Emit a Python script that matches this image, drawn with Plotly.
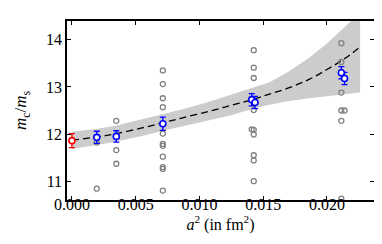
import plotly.graph_objects as go

# ---- data ----
grey_x = [0.00195, 0.00195,
          0.00348, 0.00348, 0.00348,
          0.00713, 0.00713, 0.00713, 0.00713, 0.00713, 0.00713, 0.00713, 0.00713, 0.00713, 0.00713, 0.00713,
          0.01426, 0.01426, 0.01426, 0.01426, 0.01410, 0.01426, 0.01426, 0.01426, 0.01426, 0.01426,
          0.02113, 0.02113, 0.02113, 0.02113, 0.02138, 0.02113, 0.02113]
grey_y = [11.82, 10.84,
          12.28, 11.66, 11.37,
          13.35, 13.06, 12.76, 12.57, 12.01, 11.79, 11.75, 11.52, 11.30, 11.26, 10.80,
          13.78, 13.41, 13.19, 12.51, 12.10, 12.09, 11.99, 11.55, 11.44, 11.00,
          13.93, 13.53, 12.88, 12.50, 12.50, 12.28, 10.63]

blue_x = [0.00195, 0.00348, 0.00713, 0.01410, 0.01436, 0.02113, 0.02138]
blue_y = [11.93, 11.95, 12.22, 12.73, 12.67, 13.30, 13.18]
blue_err = [0.13, 0.12, 0.14, 0.13, 0.13, 0.13, 0.13]

red_x = [0.0]
red_y = [11.86]
red_err = [0.15]

fit_x = [0.0, 0.002, 0.0035, 0.0055, 0.00713, 0.0086, 0.0107, 0.0125, 0.01426,
         0.0155, 0.0170, 0.0186, 0.0200, 0.0211, 0.0218, 0.0226]
fit_y = [11.87, 11.94, 12.01, 12.13, 12.24, 12.34, 12.48, 12.61, 12.74,
         12.85, 12.98, 13.16, 13.37, 13.55, 13.68, 13.85]
band_lo = [11.69, 11.77, 11.84, 11.96, 12.07, 12.17, 12.29, 12.40, 12.54,
           12.62, 12.70, 12.76, 12.80, 12.84, 12.86, 12.88]
band_hi = [12.05, 12.11, 12.18, 12.31, 12.41, 12.52, 12.68, 12.84, 13.00,
           13.10, 13.33, 13.62, 13.92, 14.20, 14.36, 14.58]

x_ticks = [0.0, 0.005, 0.010, 0.015, 0.020]
x_ticklabels = ["0.000", "0.005", "0.010", "0.015", "0.020"]
y_ticks = [11, 12, 13, 14]
y_ticklabels = ["11", "12", "13", "14"]

FONT = "Liberation Serif"

fig = go.Figure()

fig.add_trace(go.Scatter(
    x=fit_x + fit_x[::-1], y=band_hi + band_lo[::-1],
    fill="toself", fillcolor="rgb(204,204,204)", line=dict(width=0),
    mode="lines", hoverinfo="skip", showlegend=False))

fig.add_trace(go.Scatter(
    x=fit_x, y=fit_y, mode="lines",
    line=dict(color="black", width=1.3, dash="7px,4px", shape="spline"),
    showlegend=False))

fig.add_trace(go.Scatter(
    x=grey_x, y=grey_y, mode="markers",
    marker=dict(symbol="circle-open", size=5, color="rgb(128,128,128)",
                line=dict(width=1.3, color="rgb(128,128,128)")),
    showlegend=False))

fig.add_trace(go.Scatter(
    x=blue_x, y=blue_y, mode="markers",
    error_y=dict(type="data", array=blue_err, color="blue", thickness=1.3, width=3),
    marker=dict(symbol="circle", size=6, color="white",
                line=dict(width=1.6, color="blue")),
    showlegend=False))

fig.add_trace(go.Scatter(
    x=red_x, y=red_y, mode="markers",
    error_y=dict(type="data", array=red_err, color="red", thickness=1.3, width=3),
    marker=dict(symbol="circle", size=6, color="white",
                line=dict(width=1.6, color="red")),
    showlegend=False))

fig.update_layout(
    width=382, height=244,
    margin=dict(l=53, r=16, t=11, b=52),
    paper_bgcolor="white", plot_bgcolor="white",
    font=dict(family=FONT, size=16, color="black"),
    xaxis=dict(range=[-0.000385, 0.02369], tickvals=x_ticks, ticktext=x_ticklabels,
               ticks="inside", ticklen=4, tickwidth=1, tickcolor="black",
               showline=True, linecolor="black", linewidth=1.5, mirror="allticks",
               showgrid=False, zeroline=False, ticklabelstandoff=-11,
               title=dict(text="<i>a</i><sup>2</sup> (in fm<sup>2</sup>)",
                          font=dict(family=FONT, size=16), standoff=0)),
    yaxis=dict(range=[10.6, 14.4], tickvals=y_ticks, ticktext=y_ticklabels,
               ticks="inside", ticklen=4, tickwidth=1, tickcolor="black",
               showline=True, linecolor="black", linewidth=1.5, mirror="allticks",
               showgrid=False, zeroline=False,
               title=dict(text="<i>m</i><sub>c</sub>/<i>m</i><sub>s</sub>",
                          font=dict(family=FONT, size=17), standoff=15)),
)

fig.write_html("out.html")
